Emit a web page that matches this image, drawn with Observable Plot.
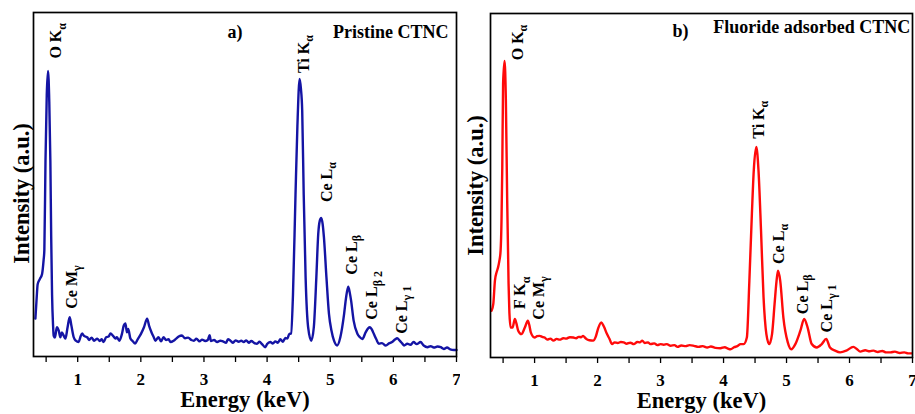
<!DOCTYPE html>
<html>
<head>
<meta charset="utf-8">
<script src="https://cdn.jsdelivr.net/npm/d3@7"></script>
<script src="https://cdn.jsdelivr.net/npm/@observablehq/plot@0.6"></script>
<style>
  body { margin: 0; background: #fff; }
  #wrap { display: flex; width: 915px; height: 414px; overflow: hidden; }
  #wrap svg, #wrap svg text { font-family: "Liberation Serif", "Times New Roman", "DejaVu Serif", serif !important; font-weight: bold !important; }
</style>
</head>
<body>
<div id="wrap"></div>
<script>
// ---------- Panel a) Pristine CTNC ----------
const energyA = [0.33,0.35,0.366,0.40,0.436,0.46,0.472,0.49,0.51,0.53,0.55,0.567,0.58,0.594,0.61,0.62,0.64,0.67,0.70,0.726,0.75,0.78,0.805,0.84,0.873,0.90,0.937,0.97,1.016,1.04,1.07,1.10,1.15,1.18,1.22,1.26,1.31,1.35,1.38,1.41,1.45,1.49,1.52,1.56,1.60,1.62,1.66,1.70,1.73,1.756,1.78,1.80,1.835,1.87,1.91,1.95,2.00,2.05,2.10,2.13,2.17,2.20,2.23,2.28,2.32,2.36,2.40,2.44,2.47,2.52,2.56,2.60,2.65,2.70,2.75,2.80,2.84,2.88,2.93,2.97,3.02,3.06,3.09,3.11,3.16,3.21,3.26,3.30,3.35,3.38,3.42,3.46,3.50,3.55,3.59,3.63,3.67,3.71,3.75,3.80,3.84,3.88,3.92,3.97,4.00,4.05,4.09,4.13,4.17,4.21,4.25,4.29,4.32,4.35,4.38,4.41,4.45,4.48,4.515,4.535,4.556,4.58,4.61,4.65,4.70,4.74,4.78,4.81,4.835,4.857,4.88,4.90,4.94,4.98,5.02,5.06,5.11,5.16,5.22,5.25,5.285,5.31,5.33,5.37,5.43,5.47,5.51,5.56,5.60,5.63,5.66,5.69,5.73,5.77,5.82,5.88,5.93,5.98,6.03,6.06,6.10,6.14,6.17,6.22,6.27,6.32,6.37,6.43,6.48,6.54,6.59,6.64,6.70,6.75,6.80,6.85,6.90,6.96,7.00];
const intensityA = [11,17,21,22.5,24,28,31,57,76,83,74,57,35,18,9,6,5.5,8.5,7.5,5.6,7,6,5.2,8.5,11.4,9,5.6,4.6,4.2,5.5,6.7,6,5.6,4.8,5.5,4.6,5.2,4.5,5,4.2,5.6,5.8,6.7,6,5.2,5.6,4.6,6.5,9,9.6,7,8,5.2,4.5,3.8,5,6.5,8.5,11,9,7,5.8,4.6,5.6,4.4,5.6,4.8,5,4.2,4.6,5.2,5.8,6.1,5.3,5.5,4.8,4.6,5.2,4.4,4.9,4.5,4.8,6.2,4.5,4.8,4.2,4.6,4.4,4.0,5.0,4.6,4.0,4.7,4.3,4.6,4.2,4.7,4.0,4.5,3.9,3.7,4.3,3.6,2.7,3.6,4.2,3.8,4.4,4.0,5.0,4.3,5.4,5.2,6.5,6.7,18,47,67,80.7,78,71.5,47,23,8.5,4.6,8.5,23,35.6,39.5,40.3,38.5,34.7,23,12.4,7.5,4.6,3.2,5.6,12.4,17,20.3,18.5,16.3,10.5,6.6,5.6,5.1,7,8.2,8.5,7.8,6.6,5,3.7,3.9,3.2,3.8,4.2,5.0,5.3,4.6,3.8,3.2,3.7,3.4,4.2,3.6,4.2,3.2,2.7,3.0,2.6,2.9,2.7,2.2,2.6,2.1,1.9,1.9];

const peakTextA = ["O K", "Ce M", "Ti K", "Ce L", "Ce L", "Ce L", "Ce L"];
const peakSubA  = ["α", "γ", "α", "α", "β", "β 2", "γ 1"];
const peakXA    = [0.66, 0.905, 4.577, 4.94, 5.34, 5.665, 6.13];
const peakYA    = [86.6, 13.9, 82.4, 44.9, 23.8, 10.7, 6.6];

// ---------- Panel b) Fluoride adsorbed CTNC ----------
const energyB = [0.317,0.344,0.37,0.40,0.42,0.44,0.46,0.475,0.487,0.50,0.523,0.544,0.565,0.587,0.60,0.62,0.65,0.687,0.71,0.74,0.79,0.845,0.893,0.915,0.94,1.0,1.04,1.08,1.12,1.16,1.20,1.25,1.30,1.35,1.40,1.455,1.50,1.56,1.615,1.66,1.70,1.74,1.77,1.80,1.82,1.87,1.93,1.97,2.01,2.06,2.10,2.15,2.19,2.23,2.27,2.32,2.37,2.415,2.46,2.52,2.575,2.63,2.67,2.71,2.75,2.80,2.84,2.90,2.95,3.00,3.05,3.10,3.16,3.22,3.27,3.33,3.40,3.46,3.53,3.60,3.67,3.74,3.80,3.87,3.95,4.02,4.07,4.11,4.17,4.22,4.27,4.32,4.37,4.41,4.45,4.48,4.52,4.555,4.595,4.635,4.68,4.725,4.77,4.81,4.84,4.865,4.90,4.95,5.02,5.075,5.14,5.22,5.28,5.335,5.40,5.48,5.56,5.63,5.69,5.77,5.85,5.95,6.06,6.12,6.17,6.25,6.32,6.38,6.45,6.52,6.58,6.65,6.72,6.80,6.87,6.93,6.99];
const intensityB = [13.6,15.5,22.3,25,26.2,28,31,40,55.3,79.6,86.2,74.8,45.6,21.4,13,8.7,8.7,11.2,10,7.8,6.8,8.7,10.7,9.5,7.3,5.8,6.2,6.3,6.0,5.8,5.2,5.5,4.9,5.4,5.2,5.6,5.5,5.9,5.8,5.6,6.0,5.9,6.3,5.8,5.4,5.0,4.9,6.0,8.5,10.2,9.0,6.8,5.4,3.9,4.4,4.2,4.5,4.4,4.0,4.3,3.9,4.5,4.4,4.9,4.2,4.4,3.9,4.1,3.6,3.9,3.7,3.9,3.4,3.6,3.1,3.5,3.3,3.6,3.4,3.1,3.3,2.9,3.2,2.8,2.7,3.0,2.6,2.4,3.0,3.3,3.9,3.9,5.8,22.3,41.8,54.4,61.2,54.4,36.9,17.5,6.8,3.9,6.8,15.5,22,25.2,22.3,11.6,4.4,2.4,3.9,7.8,11.2,8.7,3.9,2.9,3.9,5.4,2.9,2.0,1.5,2.0,3.1,2.4,1.7,2.1,1.8,2.0,1.6,1.9,1.5,1.5,1.7,1.3,1.5,1.2,1.2];

const peakTextB = ["O K", "F K", "Ce M", "Ti K", "Ce L", "Ce L", "Ce L"];
const peakSubB  = ["α", "α", "γ", "α", "α", "β", "γ 1"];
const peakXB    = [0.737, 0.774, 1.067, 4.565, 4.88, 5.262, 5.635];
const peakYB    = [86.4, 14.1, 11, 63.6, 27.2, 12.6, 7.3];

// ---------- Shared axis ticks & labels ----------
const majorTicks = [1, 2, 3, 4, 5, 6, 7];
const minorTicks = [0.5, 1.5, 2.5, 3.5, 4.5, 5.5, 6.5];
const xDomain = [0.3, 7];
const yDomain = [0, 100];
const xLabel = "Energy (keV)";
const yLabel = "Intensity (a.u.)";

function subscripts(svg) {
  const ns = "http://www.w3.org/2000/svg";
  svg.querySelectorAll("text").forEach(t => {
    const s = t.textContent;
    if (!s.includes("|")) return;
    const [m, sub] = s.split("|");
    t.textContent = "";
    const a = document.createElementNS(ns, "tspan");
    a.textContent = m;
    const b = document.createElementNS(ns, "tspan");
    b.setAttribute("dy", "0.35em");
    b.setAttribute("font-size", "0.75em");
    b.textContent = sub;
    t.appendChild(a);
    t.appendChild(b);
  });
}

function panel(cfg) {
  const rows = cfg.energy.map((e, i) => ({e, v: cfg.intensity[i]}));
  const peaks = cfg.peakText.map((t, i) => ({x: cfg.peakX[i], y: cfg.peakY[i], t: t + "|" + cfg.peakSub[i]}));
  const svg = Plot.plot({
    width: cfg.width,
    height: 414,
    marginLeft: cfg.marginLeft,
    marginRight: cfg.marginRight,
    marginTop: cfg.marginTop,
    marginBottom: cfg.marginBottom,
    style: {color: "black", background: "white", overflow: "visible"},
    x: {domain: xDomain},
    y: {domain: yDomain, axis: null},
    marks: [
      Plot.axisX({ticks: minorTicks, tickSize: 6, tickFormat: () => "", label: null, strokeWidth: 1.3}),
      Plot.axisX({ticks: majorTicks, tickSize: 6, tickPadding: 10, fontSize: 17, tickFormat: d => String(d), label: null, strokeWidth: 1.3}),
      Plot.line(rows, {x: "e", y: "v", stroke: cfg.color, strokeWidth: 2.4, curve: "monotone-x"}),
      Plot.frame({stroke: "black", strokeWidth: 1.7}),
      Plot.text(peaks, {x: "x", y: "y", text: "t", rotate: -90, textAnchor: "start", fontSize: 16, fill: "black"}),
      Plot.text([cfg.tag], {x: cfg.tagX, y: cfg.tagY, textAnchor: "start", fontSize: 18, fill: "black"}),
      Plot.text([cfg.title], {x: cfg.titleX, y: cfg.titleY, textAnchor: "end", fontSize: 18, fill: "black"}),
      Plot.text([xLabel], {frameAnchor: "bottom", lineAnchor: "middle", textAnchor: "middle", dy: 43.5, fontSize: 22.5, fill: "black"}),
      Plot.text([yLabel], {frameAnchor: "left", lineAnchor: "middle", textAnchor: "middle", rotate: -90, dx: cfg.yLabelDx, dy: cfg.yLabelDy, fontSize: 22.5, fill: "black"})
    ]
  });
  subscripts(svg);
  return svg;
}

const wrap = document.getElementById("wrap");
wrap.appendChild(panel({
  width: 460, marginLeft: 33, marginRight: 4, marginTop: 12, marginBottom: 58,
  energy: energyA, intensity: intensityA, color: "#1414a4",
  peakText: peakTextA, peakSub: peakSubA, peakX: peakXA, peakY: peakYA,
  tag: "a)", tagX: 3.372, tagY: 94.2,
  title: "Pristine CTNC", titleX: 6.875, titleY: 94.2,
  yLabelDx: -12, yLabelDy: 9
}));
wrap.appendChild(panel({
  width: 455, marginLeft: 30, marginRight: 3, marginTop: 13, marginBottom: 57,
  energy: energyB, intensity: intensityB, color: "#ff0a0a",
  peakText: peakTextB, peakSub: peakSubB, peakX: peakXB, peakY: peakYB,
  tag: "b)", tagX: 3.188, tagY: 94.9,
  title: "Fluoride adsorbed CTNC", titleX: 6.963, titleY: 95.9,
  yLabelDx: -15, yLabelDy: 0
}));
</script>
</body>
</html>
